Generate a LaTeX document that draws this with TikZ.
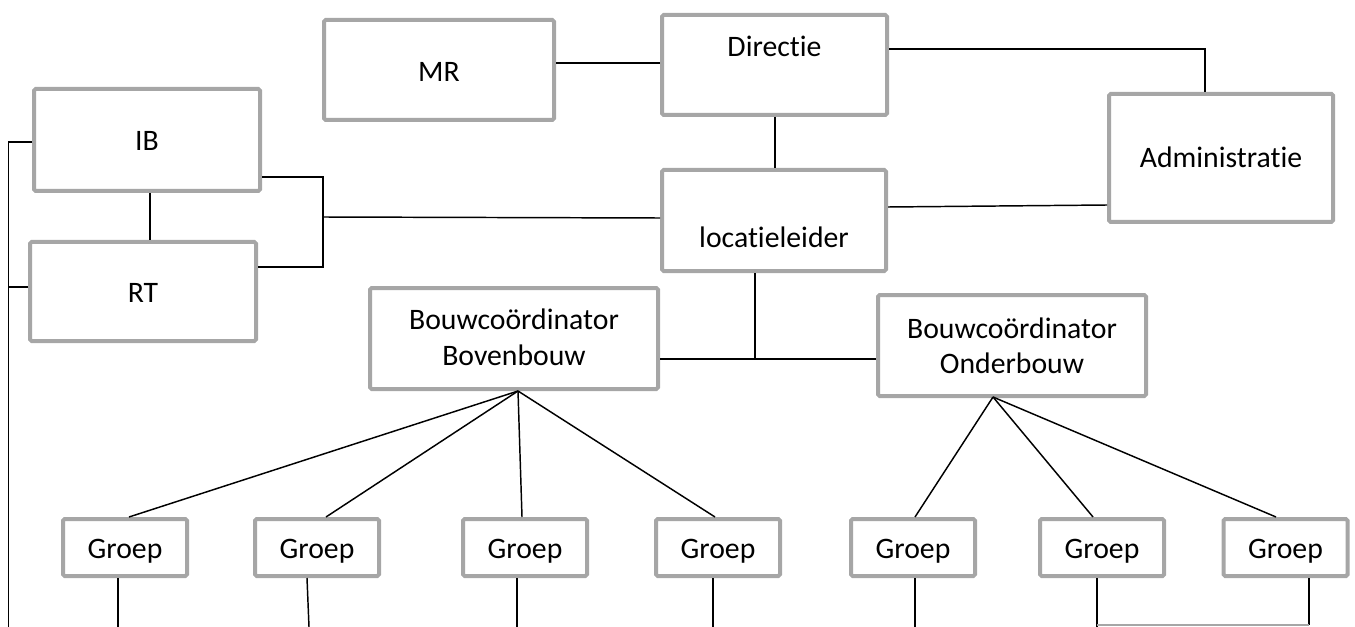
\documentclass[tikz,border=0pt]{standalone}
\usepackage{fontspec}
\setmainfont{Carlito}[Ligatures={NoCommon}]
\definecolor{boxgray}{HTML}{A6A6A6}
\newcommand\txtat[2]{\raisebox{#1}[0pt][0pt]{#2}}
\newcommand\twolines[2]{\begin{tabular}[t]{@{}c@{}}#1\\#2\end{tabular}}
\begin{document}
\begin{tikzpicture}[x=0.75pt,y=-0.75pt,
  box/.style={draw=boxgray, line width=3pt, rounded corners=1.2pt, inner sep=0pt, fill=white,
              font=\fontsize{22.3}{26.3}\selectfont},
  grp/.style={box, minimum width={124*0.75pt}, minimum height={57*0.75pt}},
  conn/.style={draw=black, line width=1.1pt},
  faint/.style={draw=black!35, line width=0.8pt}]
\useasboundingbox (0,0) rectangle (1355,627);
% boxes
\node[box, minimum width={230*0.75pt}, minimum height={100*0.75pt}] (mr) at (439,70) {\txtat{-9pt}{MR}};
\node[box, minimum width={225*0.75pt}, minimum height={100*0.75pt}] (dir) at (774.5,65) {\txtat{6pt}{Directie}};
\node[box, minimum width={224*0.75pt}, minimum height={101*0.75pt}] (loc) at (774,220.5) {\txtat{-20.6pt}{locatieleider}};
\node[box, minimum width={224*0.75pt}, minimum height={128*0.75pt}] (adm) at (1221,158) {\txtat{-7.5pt}{Administratie}};
\node[box, minimum width={226*0.75pt}, minimum height={102*0.75pt}] (ib) at (147,140) {\txtat{-8.25pt}{IB}};
\node[box, minimum width={226*0.75pt}, minimum height={99*0.75pt}] (rt) at (143,291.5) {\txtat{-8.6pt}{RT}};
\node[box, minimum width={288*0.75pt}, minimum height={101*0.75pt}] (bb) at (514,338.5) {\txtat{6.4pt}{\twolines{Bouwcoördinator}{Bovenbouw}}};
\node[box, minimum width={268*0.75pt}, minimum height={101*0.75pt}] (bo) at (1012,345.5) {\txtat{5.6pt}{\twolines{Bouwcoördinator}{Onderbouw}}};
\node[grp] (g1) at (125,547.5) {\txtat{-8.6pt}{Groep}};
\node[grp] (g2) at (317,547.5) {\txtat{-8.6pt}{Groep}};
\node[grp] (g3) at (525,547.5) {\txtat{-8.6pt}{Groep}};
\node[grp] (g4) at (718,547.5) {\txtat{-8.6pt}{Groep}};
\node[grp] (g5) at (913,547.5) {\txtat{-8.6pt}{Groep}};
\node[grp] (g6) at (1102,547.5) {\txtat{-8.6pt}{Groep}};
\node[grp] (g7) at (1285.5,547.5) {\txtat{-8.6pt}{Groep}};
% left rail
\coordinate (ltop) at (8.5,142);
\coordinate (lmid) at (8.5,287);
\coordinate (lbot) at (8.5,627);
\draw[conn] (ib.west |- ltop) -- (ltop) -- (lbot);
\draw[conn] (rt.west |- lmid) -- (lmid);
% IB - RT
\draw[conn] (ib.south -| 150,0) -- (rt.north -| 150,0);
% bracket
\coordinate (br1) at (323,177);
\coordinate (br2) at (323,267);
\coordinate (brm) at (323,217);
\draw[conn] (ib.east |- br1) -- (br1) -- (br2) -- (rt.east |- br2);
\draw[conn] (brm) -- (loc.west |- 0,218);
% top
\draw[conn] (mr.east |- 0,63) -- (dir.west |- 0,63);
\coordinate (ac) at (1205,49);
\draw[conn] (dir.east |- ac) -- (ac) -- (adm.north -| ac);
\draw[conn] (dir.south -| 775,0) -- (loc.north -| 775,0);
\draw[conn] (loc.east |- 0,207) -- (adm.west |- 0,205);
\coordinate (jn) at (755,359);
\draw[conn] (loc.south -| jn) -- (jn);
\draw[conn] (bb.east |- jn) -- (bo.west |- jn);
% fans
\coordinate (bbap) at (518,391);
\draw[conn] (bbap) -- (g1.north -| 129,0);
\draw[conn] (bbap) -- (g2.north -| 326,0);
\draw[conn] (bbap) -- (g3.north -| 522,0);
\draw[conn] (bbap) -- (g4.north -| 715,0);
\coordinate (boap) at (993,397);
\draw[conn] (boap) -- (g5.north -| 915,0);
\draw[conn] (boap) -- (g6.north -| 1093,0);
\draw[conn] (boap) -- (g7.north -| 1276,0);
% bottom stubs
\draw[conn] (g1.south -| 118,0) -- (118,627);
\draw[conn] (g2.south -| 307,0) -- (309,627);
\draw[conn] (g3.south -| 517,0) -- (517,627);
\draw[conn] (g4.south -| 713,0) -- (713,627);
\draw[conn] (g5.south -| 915,0) -- (915,627);
\coordinate (b6) at (1097,625);
\coordinate (b7) at (1309,625);
\draw[conn] (g6.south -| b6) -- (1097,627);
\draw[conn] (g7.south -| b7) -- (b7);
\draw[faint] (b6) -- (b7);
\end{tikzpicture}
\end{document}
